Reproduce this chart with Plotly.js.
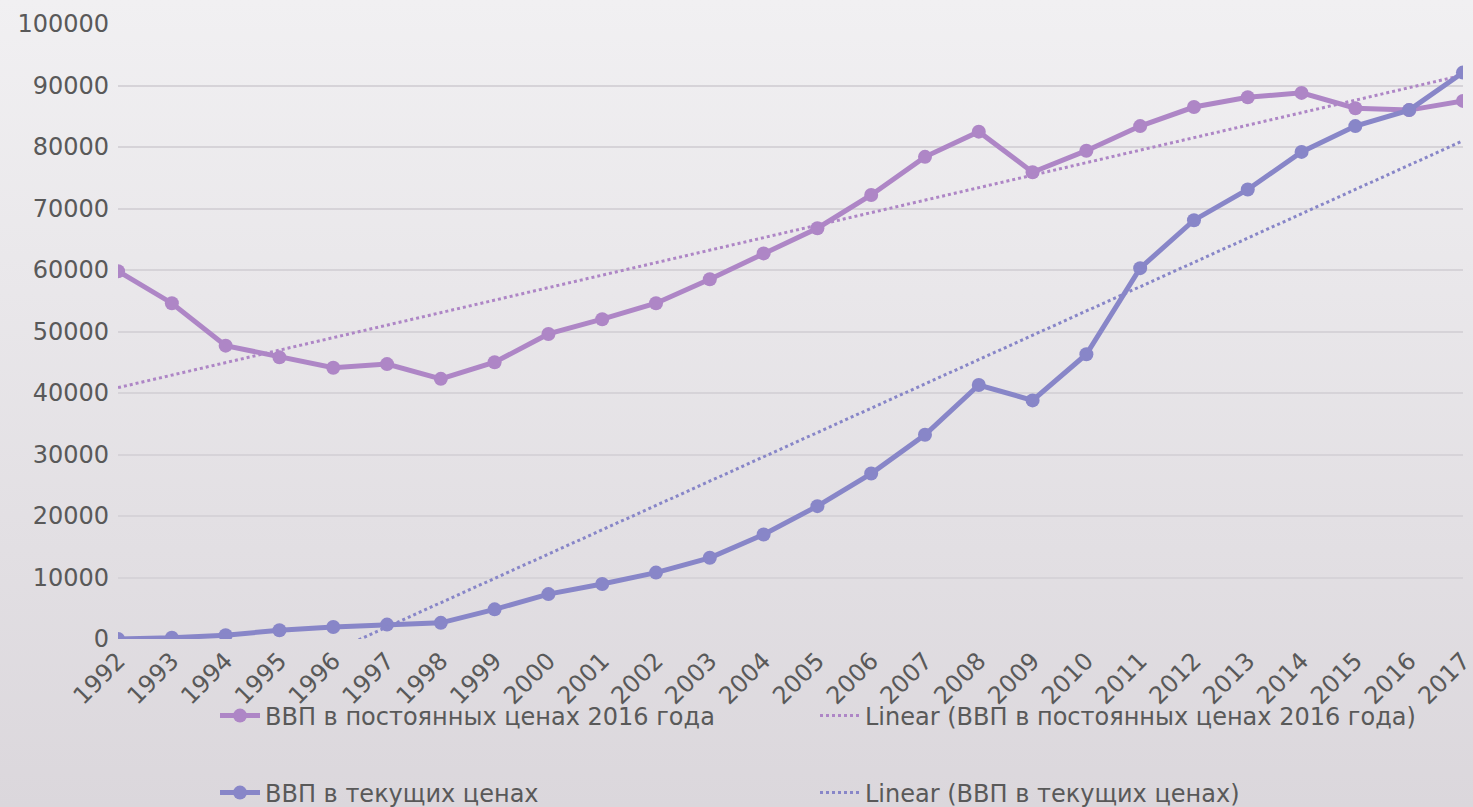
<!DOCTYPE html>
<html>
<head>
<meta charset="utf-8">
<script src="https://cdn.plot.ly/plotly-3.0.1.min.js"></script>
<style>
html,body{margin:0;padding:0;}
#chart{width:1473px;height:807px;background:linear-gradient(to bottom,#f1f0f2 0%,#dbd7dc 100%);}
</style>
</head>
<body>
<div id="chart"></div>
<script>
const years = [1992,1993,1994,1995,1996,1997,1998,1999,2000,2001,2002,2003,2004,2005,2006,2007,2008,2009,2010,2011,2012,2013,2014,2015,2016,2017];
const gdpConstant2016 = [59800,54600,47700,45800,44100,44700,42300,45000,49600,52000,54600,58500,62700,66800,72200,78400,82500,75900,79400,83400,86500,88100,88800,86300,86000,87500];
const gdpCurrent = [20,200,610,1430,1950,2340,2630,4820,7300,8940,10800,13200,17000,21600,26900,33200,41300,38800,46300,60300,68100,73100,79200,83400,86000,92100];
const seriesNames = ["ВВП в постоянных ценах 2016 года","Linear (ВВП в постоянных ценах 2016 года)","ВВП в текущих ценах","Linear (ВВП в текущих ценах)"];
const yTicks = [0,10000,20000,30000,40000,50000,60000,70000,80000,90000,100000];

function linearFit(xs, ys){
  const n = xs.length;
  let sx=0, sy=0, sxx=0, sxy=0;
  for(let i=0;i<n;i++){sx+=xs[i];sy+=ys[i];sxx+=xs[i]*xs[i];sxy+=xs[i]*ys[i];}
  const b=(n*sxy-sx*sy)/(n*sxx-sx*sx);
  const a=(sy-b*sx)/n;
  return xs.map(x=>a+b*x);
}

const cPurple = "#ae86c6";
const cBlue = "#8886c8";

const traces = [
  {x:years,y:gdpConstant2016,name:seriesNames[0],type:"scatter",mode:"lines+markers",
   line:{color:cPurple,width:5},marker:{color:cPurple,size:14},legend:"legend"},
  {x:years,y:linearFit(years,gdpConstant2016),name:seriesNames[1],type:"scatter",mode:"lines",
   line:{color:cPurple,width:3,dash:"dot"},legend:"legend"},
  {x:years,y:gdpCurrent,name:seriesNames[2],type:"scatter",mode:"lines+markers",
   line:{color:cBlue,width:5},marker:{color:cBlue,size:14},legend:"legend2"},
  {x:years,y:linearFit(years,gdpCurrent),name:seriesNames[3],type:"scatter",mode:"lines",
   line:{color:cBlue,width:3,dash:"dot"},legend:"legend2"}
];

const font = {family:"DejaVu Sans, sans-serif",size:24,color:"#595959"};

const layout = {
  width:1473,height:807,
  paper_bgcolor:"rgba(0,0,0,0)",plot_bgcolor:"rgba(0,0,0,0)",
  margin:{l:118,r:10,t:24,b:168},
  font:font,
  showlegend:true,
  xaxis:{range:[1991.999,2017.001],tickvals:years,ticktext:years.map(String),tickangle:-45,
    showgrid:false,zeroline:false,showline:false,ticks:"",tickfont:font,ticklabelstandoff:2,
    ticklabeloverflow:"allow"},
  yaxis:{range:[0,100000],tickvals:yTicks,ticktext:yTicks.map(String),showgrid:true,gridcolor:"#d6d3d8",gridwidth:2,
    zeroline:false,showline:false,ticks:"",tickfont:font,ticklabelstandoff:8},
  legend:{orientation:"h",xref:"container",yref:"container",x:215/1473,y:1-716/807,
    xanchor:"left",yanchor:"middle",entrywidth:545,font:font,bgcolor:"rgba(0,0,0,0)",itemwidth:40},
  legend2:{orientation:"h",xref:"container",yref:"container",x:215/1473,y:1-793/807,
    xanchor:"left",yanchor:"middle",entrywidth:545,font:font,bgcolor:"rgba(0,0,0,0)",itemwidth:40}
};

Plotly.newPlot("chart",traces,layout,{displayModeBar:false,staticPlot:true});
</script>
</body>
</html>
